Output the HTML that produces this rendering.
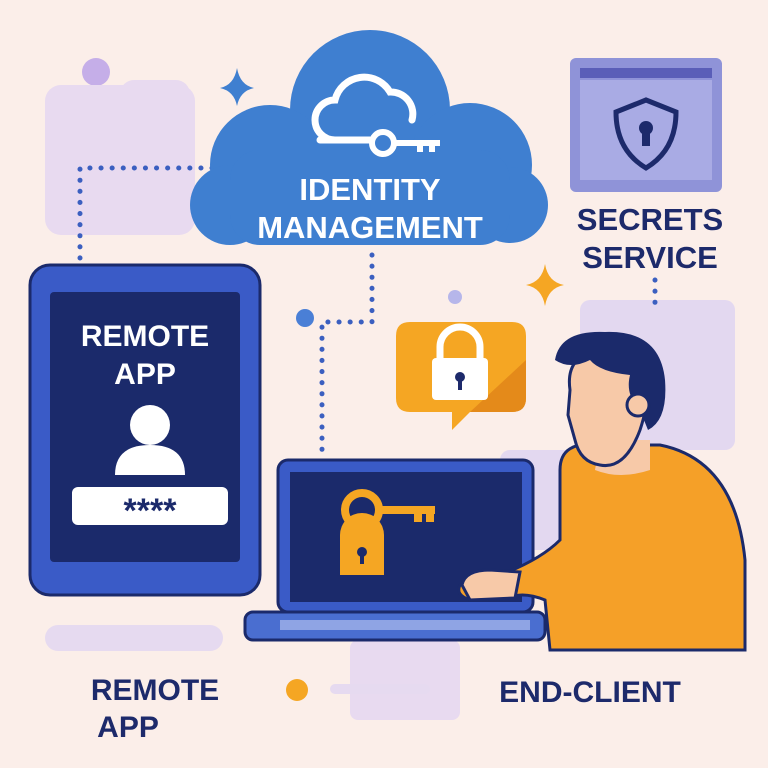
<!DOCTYPE html>
<html><head><meta charset="utf-8"><style>
html,body{margin:0;padding:0;background:#fbeee9}
svg{display:block}
text{font-family:"Liberation Sans",sans-serif;font-weight:bold}
</style></head><body>
<svg width="768" height="768" viewBox="0 0 768 768" xmlns="http://www.w3.org/2000/svg">
<rect width="768" height="768" fill="#fbeee9"/>
<!-- bg decor -->
<circle cx="96" cy="72" r="14" fill="#c5aee8"/>
<rect x="45" y="85" width="150" height="150" rx="16" fill="#e8daf0"/>
<rect x="120" y="80" width="70" height="60" rx="14" fill="#e8daf0"/>
<rect x="580" y="300" width="155" height="150" rx="10" fill="#e3d8f0"/>
<rect x="500" y="450" width="130" height="100" rx="10" fill="#e3d8f0"/>
<rect x="350" y="640" width="110" height="80" rx="8" fill="#e8daf0"/>
<rect x="45" y="625" width="178" height="26" rx="13" fill="#e6daf0"/>
<rect x="330" y="684" width="100" height="10" rx="5" fill="#e6daf0"/>
<circle cx="297" cy="690" r="11" fill="#f5a623"/>
<circle cx="305" cy="318" r="9" fill="#4a7fd6"/>
<circle cx="455" cy="297" r="7" fill="#b6b6ea"/>
<!-- dotted lines -->
<g stroke="#3b5fc0" stroke-width="5" stroke-linecap="round" stroke-dasharray="0.1 11" fill="none">
<path d="M80 258 V168 H232"/>
<path d="M372 255 V322 H322 V460"/>
<path d="M655 280 V310"/>
</g>
<!-- sparkles -->
<path d="M237 68 Q240 85 254 88 Q240 91 237 106 Q234 91 220 88 Q234 85 237 68Z" fill="#3f7fd0"/>
<path d="M545 264 Q548 282 564 285 Q548 288 545 306 Q542 288 526 285 Q542 282 545 264Z" fill="#f5a623"/>
<!-- cloud -->
<g fill="#3f7fd0">
<circle cx="370" cy="110" r="80"/>
<circle cx="270" cy="165" r="60"/>
<circle cx="470" cy="165" r="62"/>
<circle cx="230" cy="205" r="40"/>
<circle cx="510" cy="205" r="38"/>
<rect x="230" y="150" width="280" height="95" rx="30"/>
</g>
<path d="M335 140 a20 20 0 0 1 0-40 a30 30 0 0 1 55-8 a22 22 0 0 1 22 28" fill="none" stroke="#fff" stroke-width="7" stroke-linecap="round"/>
<line x1="320" y1="140" x2="370" y2="140" stroke="#fff" stroke-width="7" stroke-linecap="round"/>
<circle cx="383" cy="143" r="11" fill="none" stroke="#fff" stroke-width="6"/>
<path d="M394 143 H440 M420 143 v9 M432 143 v9" stroke="#fff" stroke-width="6" fill="none"/>
<text x="370" y="200" font-size="31" fill="#fff" text-anchor="middle">IDENTITY</text>
<text x="370" y="238" font-size="31" fill="#fff" text-anchor="middle">MANAGEMENT</text>
<!-- secrets window -->
<rect x="570" y="58" width="152" height="134" rx="6" fill="#8f93d8"/>
<rect x="580" y="80" width="132" height="100" fill="#a9abe4"/>
<rect x="580" y="68" width="132" height="10" fill="#5a5eb8"/>
<path d="M646 100 L676 112 Q676 150 646 168 Q616 150 616 112Z" fill="none" stroke="#1d2a6b" stroke-width="5"/>
<circle cx="646" cy="128" r="7" fill="#1d2a6b"/><rect x="642" y="130" width="8" height="16" fill="#1d2a6b"/>
<text x="650" y="230" font-size="31" fill="#1d2a6b" text-anchor="middle">SECRETS</text>
<text x="650" y="268" font-size="31" fill="#1d2a6b" text-anchor="middle">SERVICE</text>
<!-- tablet -->
<rect x="30" y="265" width="230" height="330" rx="20" fill="#3a5bc7" stroke="#1b2a6b" stroke-width="3"/>
<rect x="50" y="292" width="190" height="270" rx="4" fill="#1b2a6b"/>
<text x="145" y="346" font-size="30" fill="#fff" text-anchor="middle" font-weight="normal">REMOTE</text>
<text x="145" y="384" font-size="30" fill="#fff" text-anchor="middle" font-weight="normal">APP</text>
<circle cx="150" cy="425" r="20" fill="#fff"/>
<path d="M115 475 Q115 445 150 445 Q185 445 185 475Z" fill="#fff"/>
<rect x="72" y="487" width="156" height="38" rx="6" fill="#fff"/>
<text x="150" y="522" font-size="34" fill="#1b2a6b" text-anchor="middle">****</text>
<text x="155" y="700" font-size="30" fill="#1d2a6b" text-anchor="middle">REMOTE</text>
<text x="128" y="737" font-size="30" fill="#1d2a6b" text-anchor="middle">APP</text>
<!-- speech bubble -->
<path d="M410 322 H512 Q526 322 526 336 V398 Q526 412 512 412 H470 L452 430 L452 412 H410 Q396 412 396 398 V336 Q396 322 410 322Z" fill="#f5a623"/>
<path d="M470 412 L526 360 V398 Q526 412 512 412Z" fill="#e48a1a"/>
<path d="M440 360 V347 a20 20 0 0 1 40 0 V360" fill="none" stroke="#fff" stroke-width="7"/>
<rect x="432" y="358" width="56" height="42" rx="4" fill="#fff"/>
<circle cx="460" cy="377" r="5" fill="#1d2a6b"/><rect x="458" y="378" width="4" height="12" fill="#1d2a6b"/>
<!-- laptop -->
<rect x="278" y="460" width="255" height="152" rx="10" fill="#3a5bc7" stroke="#1b2a6b" stroke-width="3"/>
<rect x="290" y="472" width="232" height="130" fill="#1b2a6b"/>
<rect x="245" y="612" width="300" height="28" rx="8" fill="#4a6ed0" stroke="#1b2a6b" stroke-width="3"/>
<rect x="280" y="620" width="250" height="10" fill="#8fa4e4"/>
<circle cx="362" cy="510" r="17" fill="none" stroke="#f5a623" stroke-width="8"/>
<path d="M376 510 H435 M418 510 v12 M430 510 v12" stroke="#f5a623" stroke-width="8" fill="none"/>
<path d="M340 535 a22 22 0 0 1 44 0 V575 H340Z" fill="#f5a623"/>
<circle cx="362" cy="552" r="5" fill="#1b2a6b"/><rect x="360" y="552" width="4" height="12" fill="#1b2a6b"/>
<!-- person -->
<path d="M560 470 Q560 440 600 445 L660 445 Q735 460 745 560 V650 H550 L545 600 Q520 590 505 600 L470 600 Q455 595 460 585 L500 575 Q540 560 560 540Z" fill="#f5a028" stroke="#1b2a6b" stroke-width="3"/>
<path d="M462 585 Q465 570 490 570 L520 572 L515 598 L470 600Z" fill="#f7c9a8" stroke="#1b2a6b" stroke-width="3"/>
<path d="M595 470 L600 440 L650 440 L650 470 Q620 480 595 470Z" fill="#f7c9a8"/>
<path d="M570 390 Q565 355 600 350 L640 355 Q655 385 640 430 Q625 470 600 465 Q580 462 575 440 L568 415Z" fill="#f7c9a8" stroke="#1b2a6b" stroke-width="3"/>
<path d="M555 360 Q560 330 605 332 Q660 330 665 380 Q668 420 648 430 L640 410 Q625 395 630 375 Q600 372 590 360 Q570 370 555 360Z" fill="#1b2a6b"/>
<circle cx="638" cy="405" r="11" fill="#f7c9a8" stroke="#1b2a6b" stroke-width="3"/>
<text x="590" y="702" font-size="30" fill="#1d2a6b" text-anchor="middle">END-CLIENT</text>
</svg>
</body></html>
